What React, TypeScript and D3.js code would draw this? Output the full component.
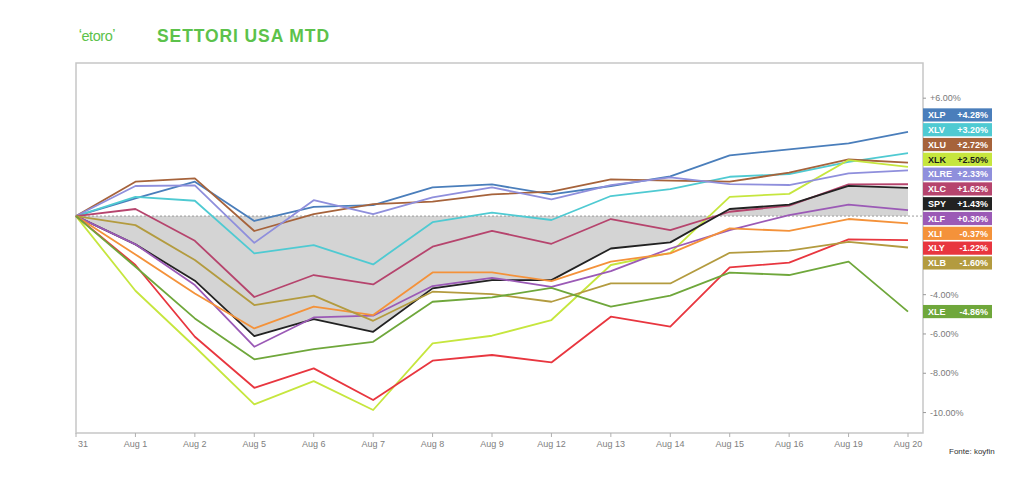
import React from "react";
import * as d3 from "d3";

const dates = ["31", "Aug 1", "Aug 2", "Aug 5", "Aug 6", "Aug 7", "Aug 8", "Aug 9", "Aug 12", "Aug 13", "Aug 14", "Aug 15", "Aug 16", "Aug 19", "Aug 20"];

const XLP = [0, 0.9, 1.75, -0.25, 0.47, 0.56, 1.46, 1.61, 1.1, 1.53, 2.02, 3.09, 3.39, 3.7, 4.28];
const XLV = [0, 0.98, 0.78, -1.9, -1.48, -2.46, -0.31, 0.17, -0.2, 1.02, 1.37, 2.0, 2.14, 2.76, 3.2];
const XLU = [0, 1.75, 1.92, -0.76, 0.1, 0.61, 0.73, 1.1, 1.24, 1.87, 1.8, 1.75, 2.21, 2.88, 2.72];
const XLK = [0, -3.8, -6.65, -9.58, -8.4, -9.87, -6.48, -6.09, -5.29, -2.49, -1.87, 0.98, 1.13, 2.85, 2.5];
const XLRE = [0, 1.53, 1.56, -1.36, 0.81, 0.1, 0.95, 1.46, 0.85, 1.58, 1.97, 1.63, 1.58, 2.17, 2.33];
const XLC = [0, 0.36, -1.26, -4.12, -3.0, -3.48, -1.56, -0.75, -1.41, -0.15, -0.71, 0.22, 0.53, 1.61, 1.62];
const SPY = [0, -1.44, -3.29, -6.11, -5.24, -5.89, -3.68, -3.26, -3.26, -1.65, -1.34, 0.36, 0.58, 1.54, 1.43];
const XLF = [0, -1.44, -3.51, -6.65, -5.16, -5.07, -3.56, -3.14, -3.6, -2.8, -1.65, -0.71, 0.05, 0.58, 0.3];
const XLI = [0, -1.95, -3.94, -5.72, -4.61, -5.04, -2.87, -2.87, -3.31, -2.32, -1.9, -0.63, -0.75, -0.15, -0.37];
const XLY = [0, -2.49, -6.14, -8.74, -7.75, -9.36, -7.36, -7.07, -7.45, -5.12, -5.63, -2.61, -2.37, -1.19, -1.22];
const XLB = [0, -0.46, -2.24, -4.53, -4.05, -5.33, -3.85, -3.97, -4.36, -3.43, -3.43, -1.87, -1.76, -1.31, -1.6];
const XLE = [0, -2.58, -5.21, -7.29, -6.77, -6.4, -4.36, -4.14, -3.65, -4.61, -4.05, -2.88, -3.0, -2.32, -4.86];

const tickers = ["XLP", "XLV", "XLU", "XLK", "XLRE", "XLC", "SPY", "XLF", "XLI", "XLY", "XLB", "XLE"];
const seriesValues = [XLP, XLV, XLU, XLK, XLRE, XLC, SPY, XLF, XLI, XLY, XLB, XLE];
const legendValues = ["+4.28%", "+3.20%", "+2.72%", "+2.50%", "+2.33%", "+1.62%", "+1.43%", "+0.30%", "-0.37%", "-1.22%", "-1.60%", "-4.86%"];
const colors = ["#4a7ebb", "#4fcad2", "#a6633b", "#c6e63e", "#8f8fdc", "#b6446d", "#222222", "#9b5ab6", "#f4923a", "#e8363f", "#b39b3f", "#6fa73b"];
const textColors = ["#fff", "#fff", "#fff", "#1a1a1a", "#fff", "#fff", "#fff", "#fff", "#fff", "#fff", "#fff", "#fff"];

const yTickValues = [6, -4, -6, -8, -10];
const yTickLabels = ["+6.00%", "-4.00%", "-6.00%", "-8.00%", "-10.00%"];

const FONT = "'Liberation Sans', Arial, Helvetica, sans-serif";

export default function App() {
  const W = 1024, H = 486;
  const left = 76, right = 923, top = 63, bottom = 433;
  const x = d3.scalePoint<string>().domain(dates).range([left, 908]);
  const y = d3.scaleLinear().domain([-11.04, 7.79]).range([bottom, top]);

  const line = d3.line<number>().x((_, i) => x(dates[i]) as number).y((d) => y(d));
  const area = d3.area<number>().x((_, i) => x(dates[i]) as number).y0(y(0)).y1((d) => y(d));

  // legend layout: cluster-based collision avoidance
  const boxH = 13.2, pitch = 14.8;
  const items = tickers.map((t, i) => ({ i, desired: y(seriesValues[i][seriesValues[i].length - 1]) }));
  items.sort((a, b) => a.desired - b.desired);
  type Cl = { items: typeof items; center: number };
  let clusters: Cl[] = items.map((it) => ({ items: [it], center: it.desired }));
  let changed = true;
  while (changed) {
    changed = false;
    for (let k = 0; k < clusters.length - 1; k++) {
      const a = clusters[k], b = clusters[k + 1];
      const aBottom = a.center + (a.items.length * pitch) / 2;
      const bTop = b.center - (b.items.length * pitch) / 2;
      if (bTop < aBottom) {
        const merged = a.items.concat(b.items);
        const c = d3.mean(merged, (m) => m.desired) as number;
        clusters.splice(k, 2, { items: merged, center: c });
        changed = true;
        break;
      }
    }
  }
  const boxY: number[] = [];
  clusters.forEach((c) => {
    const start = c.center - (c.items.length * pitch) / 2 + pitch / 2;
    c.items.forEach((it, j) => (boxY[it.i] = start + j * pitch));
  });

  return (
    <svg width={W} height={H} style={{ position: "absolute", left: 0, top: 0, background: "#fff" }} fontFamily={FONT}>
      <rect width={W} height={H} fill="#fff" />
      {/* header */}
      <text x={79} y={41} fill="#5cc24b" fontSize={14.5} fontFamily={FONT} fontWeight={500} letterSpacing={-0.4}>
        <tspan fontSize={10} fontWeight="bold" dy={-4}>‘</tspan>
        <tspan dy={4}>etoro</tspan>
        <tspan fontSize={10} fontWeight="bold" dy={-4}>’</tspan>
      </text>
      <text x={157} y={42} fill="#5cc24b" fontSize={17.5} fontWeight="bold" letterSpacing={0.9}>SETTORI USA MTD</text>

      {/* SPY area */}
      <path d={area(SPY) as string} fill="#d4d4d4" />

      {/* frame */}
      <rect x={left} y={top} width={right - left} height={bottom - top} fill="none" stroke="#c6c6c6" strokeWidth={1.5} />

      {/* zero line */}
      <line x1={left} x2={right} y1={y(0)} y2={y(0)} stroke="#9a9a9a" strokeWidth={1} strokeDasharray="2,2" />

      {/* lines */}
      {seriesValues.map((s, i) => (
        <path key={tickers[i]} d={line(s) as string} fill="none" stroke={colors[i]} strokeWidth={1.8} strokeLinejoin="round" />
      ))}

      {/* x axis */}
      {dates.map((d, i) => {
        const xx = x(d) as number;
        return (
          <g key={d}>
            <line x1={xx} x2={xx} y1={bottom} y2={bottom + 4} stroke="#b0b0b0" />
            <text x={i === 0 ? xx + 2 : xx} y={447} fontSize={9} fill="#808080" textAnchor={i === 0 ? "start" : "middle"}>{d}</text>
          </g>
        );
      })}

      {/* y axis right */}
      {yTickValues.map((v, i) => (
        <g key={v}>
          <line x1={right} x2={right + 3} y1={y(v)} y2={y(v)} stroke="#999" />
          <text x={930} y={y(v)} dy="0.35em" fontSize={9} fill="#7a7a7a">{yTickLabels[i]}</text>
        </g>
      ))}

      {/* legend boxes */}
      {tickers.map((t, i) => (
        <g key={t} transform={`translate(${right},${boxY[i] - boxH / 2})`}>
          <rect width={69} height={boxH} fill={colors[i]} />
          <text x={5} y={boxH / 2} dy="0.36em" fontSize={9} fontWeight="bold" fill={textColors[i]}>{t}</text>
          <text x={65} y={boxH / 2} dy="0.36em" fontSize={9} fontWeight="bold" fill={textColors[i]} textAnchor="end">{legendValues[i]}</text>
        </g>
      ))}

      <text x={949} y={454} fontSize={8} fill="#333">Fonte: koyfin</text>
    </svg>
  );
}
